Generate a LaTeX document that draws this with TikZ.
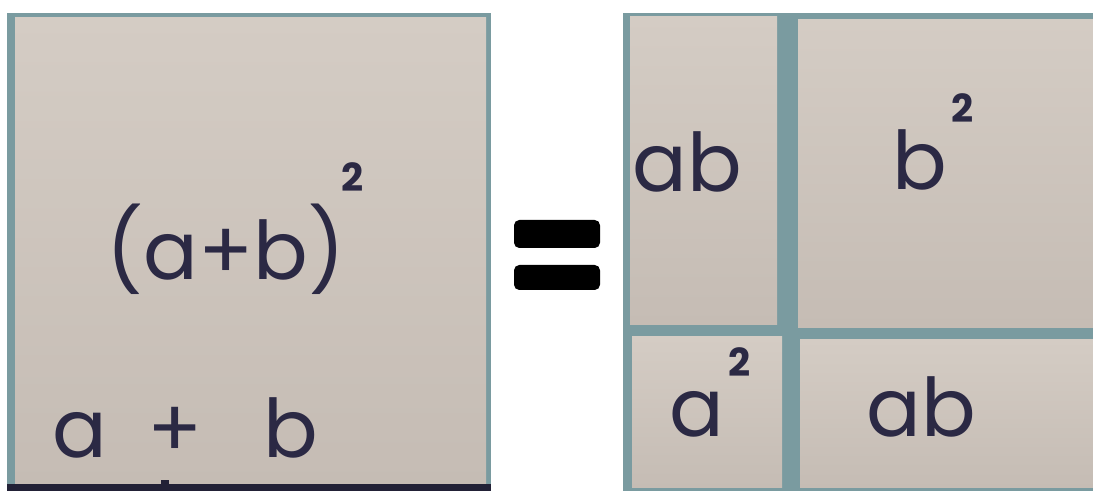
\documentclass[tikz,border=0pt]{standalone}
\usepackage{fontspec}
\setmainfont{Poppins}
\usepackage{xcolor}
\usepackage{tikz}
\usetikzlibrary{calc}

\definecolor{deskblue}{HTML}{7A9BA0}
\definecolor{paperhi}{HTML}{D4CCC4}
\definecolor{paperlo}{HTML}{C5BCB4}
\definecolor{ink}{HTML}{2B2944}

\begin{document}
\begin{tikzpicture}[x=0.01cm, y=-0.01cm, line join=round,
		paper/.style={top color=paperhi, bottom color=paperlo, draw=none},
		hand/.style={text=ink, font=\fontsize{23}{28}\selectfont, inner sep=0pt, anchor=base},
		handsup/.style={text=ink, font=\fontsize{11}{13}\selectfont\bfseries, inner sep=0pt, anchor=base}]
	
	%====================
	% 0) 画布（白底）
	%====================
	\useasboundingbox (0,0) rectangle (1093,491);
	\fill[white] (0,0) rectangle (1093,491);
	
	%====================
	% 1) 左边：大正方形 (a+b)^2
	%====================
	\fill[deskblue] (7,13) rectangle (491,491);
	\fill[paper] (15,18) rectangle (486,486);
	% 底边的黑色桌沿
	\fill[ink!80!black] (7,484) rectangle (491,491);
	\draw[ink!80!black, line width=2pt] (165,484) -- (165,480);
	
	\node[hand] (sum)   at (226,280) {(a+b)};
	\node[handsup] (sumsq) at (353,192) {2};
	\node[hand] (side)  at (185,458) {a\hspace{0.5em}+\hspace{0.75em}b};
	
	%====================
	% 2) 等号
	%====================
	\fill[black, rounded corners=1.5pt] (514,220) rectangle (600,248);
	\fill[black, rounded corners=1.5pt] (514,265) rectangle (600,290);
	
	%====================
	% 3) 右边：四块拼成的正方形
	%====================
	\fill[deskblue] (623,13) rectangle (1093,491);
	
	\coordinate (TL) at (630,17);   % 左上 ab
	\coordinate (TR) at (798,20);   % 右上 b^2
	\coordinate (BL) at (632,337);  % 左下 a^2
	\coordinate (BR) at (800,340);  % 右下 ab
	
	\fill[paper] (TL) rectangle (777,325);
	\fill[paper] (TR) rectangle (1093,328);
	\fill[paper] (BL) rectangle (782,488);
	\fill[paper] (BR) rectangle (1093,488);
	
	%====================
	% 4) 各块上的字
	%====================
	\node[hand] (abtop) at (687,192) {ab};
	
	\node[hand] (bsq)    at (920,190) {b};
	\node[handsup] (bsqtwo) at (963,123) {2};
	
	\node[hand] (asq)    at (697,437) {a};
	\node[handsup] (asqtwo) at (740,377) {2};
	
	\node[hand] (abbot) at (921,437) {ab};
	
\end{tikzpicture}
\end{document}
